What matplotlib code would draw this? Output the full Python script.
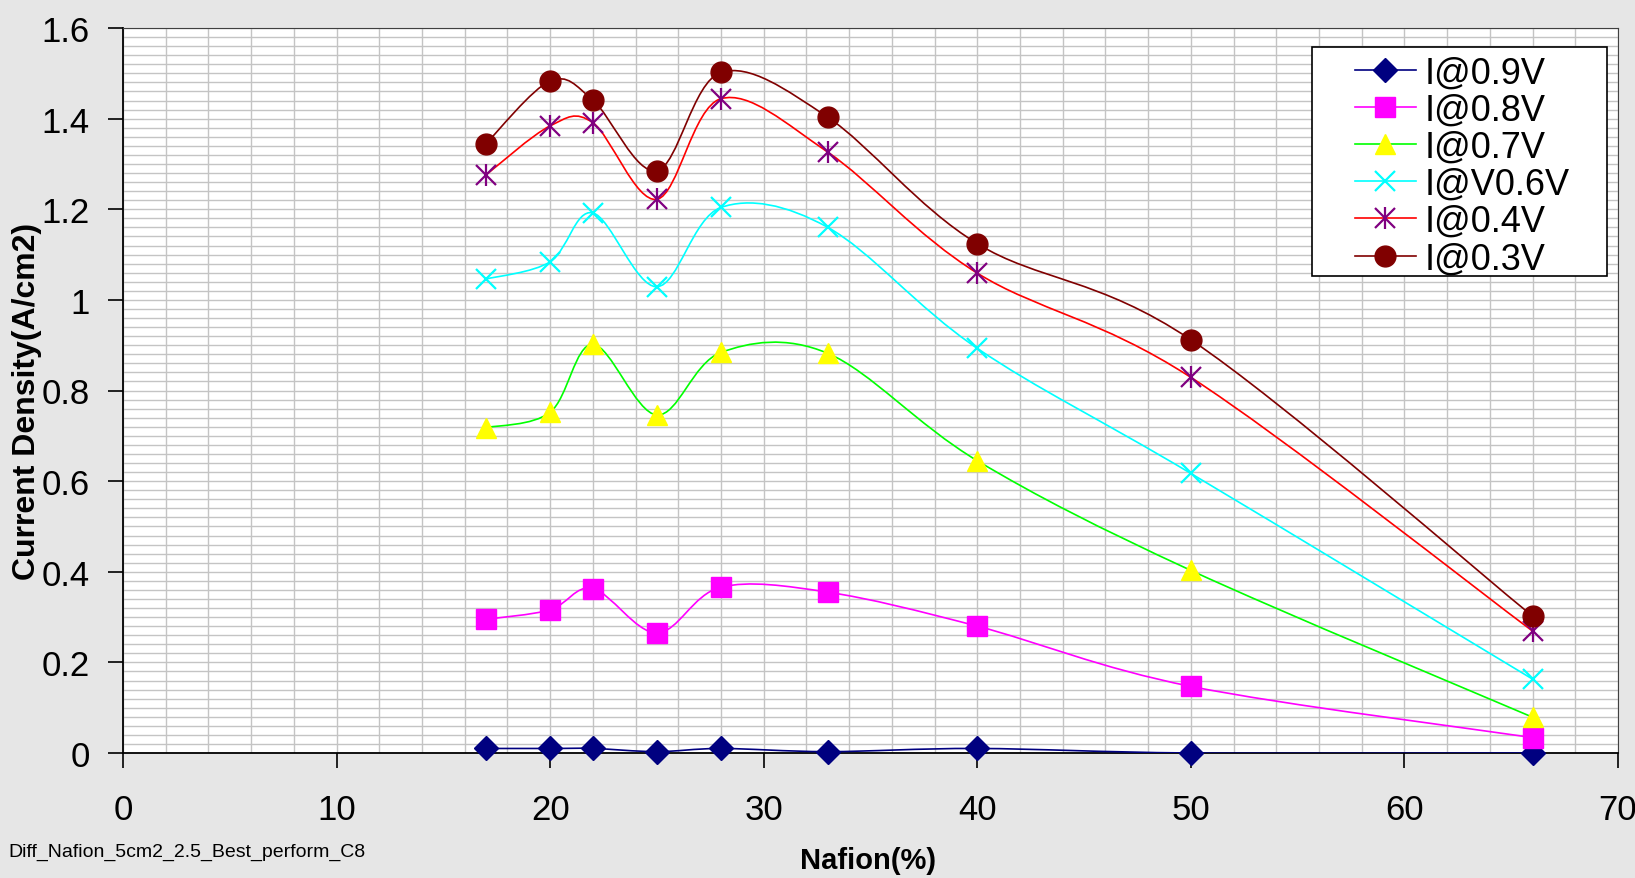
import numpy as np
import matplotlib
matplotlib.use("Agg")
import matplotlib.pyplot as plt
from matplotlib.path import Path
from matplotlib.patches import PathPatch, Rectangle
from matplotlib.lines import Line2D
from matplotlib import font_manager

names = {f.name for f in font_manager.fontManager.ttflist}
narrow = 'Liberation Sans Narrow' if 'Liberation Sans Narrow' in names else 'Liberation Sans'
plt.rcParams['font.family'] = [narrow, 'DejaVu Sans']

# Nafion content (%)
nafion = [17, 20, 22, 25, 28, 33, 40, 50, 66]

# current density (A/cm2) at each cell voltage
i_09 = [0.01, 0.01, 0.01, 0.003, 0.01, 0.003, 0.01, 0.0, 0.0]
i_08 = [0.295, 0.316, 0.363, 0.265, 0.366, 0.355, 0.280, 0.147, 0.034]
i_07 = [0.718, 0.752, 0.902, 0.746, 0.884, 0.882, 0.645, 0.403, 0.079]
i_06 = [1.046, 1.084, 1.192, 1.029, 1.204, 1.160, 0.893, 0.617, 0.163]
i_04 = [1.276, 1.384, 1.391, 1.222, 1.444, 1.326, 1.059, 0.829, 0.269]
i_03 = [1.345, 1.483, 1.441, 1.285, 1.502, 1.403, 1.124, 0.912, 0.302]

labels = ['I@0.9V', 'I@0.8V', 'I@0.7V', 'I@V0.6V', 'I@0.4V', 'I@0.3V']


def smooth_path(x, y):
    # Excel-like smoothed line: cubic Bezier through the points
    x = np.asarray(x, float)
    y = np.asarray(y, float)
    n = len(x)
    verts = [(x[0], y[0])]
    codes = [Path.MOVETO]
    for i in range(n - 1):
        i0 = max(i - 1, 0)
        i3 = min(i + 2, n - 1)
        c1 = (x[i] + (x[i + 1] - x[i0]) / 6, y[i] + (y[i + 1] - y[i0]) / 6)
        c2 = (x[i + 1] - (x[i3] - x[i]) / 6, y[i + 1] - (y[i3] - y[i]) / 6)
        verts += [c1, c2, (x[i + 1], y[i + 1])]
        codes += [Path.CURVE4] * 3
    return Path(verts, codes)


fig = plt.figure(figsize=(16.35, 8.79), dpi=100, facecolor='#e6e6e6')
ax = fig.add_axes([123 / 1635, 1 - 754 / 879, 1495 / 1635, 725 / 879])
ax.set_facecolor('white')
ax.set_xlim(0, 70)
ax.set_ylim(0, 1.6)

ax.set_xticks(np.arange(0, 71, 2), minor=True)
ax.set_yticks(np.arange(0, 1.601, 0.02), minor=True)
ax.grid(True, which='both', color='#c4c4c4', lw=1.0)
ax.set_axisbelow(True)
ax.set_xticks(np.arange(0, 71, 10))
ax.set_yticks(np.arange(0, 1.61, 0.2))
ax.set_yticklabels(['0', '0.2', '0.4', '0.6', '0.8', '1', '1.2', '1.4', '1.6'])
ax.tick_params(which='minor', length=0)
ax.tick_params(which='major', direction='out', length=11, width=1.2, color='black', labelsize=25)
ax.tick_params(axis='x', pad=18)
ax.tick_params(axis='y', pad=13)
for s in ['top', 'right']:
    ax.spines[s].set_color('#404040')
for s in ['left', 'bottom']:
    ax.spines[s].set_color('black')
    ax.spines[s].set_linewidth(1.3)

series = [
    (i_09, '#000080', dict(marker='D', ms=12, mfc='#000080', mec='#000080')),
    (i_08, '#ff00ff', dict(marker='s', ms=14, mfc='#ff00ff', mec='#ff00ff')),
    (i_07, '#00ff00', dict(marker='^', ms=15, mfc='#ffff00', mec='#ffff00')),
    (i_06, '#00ffff', dict(marker='x', ms=14, mew=1.6, color='#00ffff')),
    (i_04, '#ff0000', dict(marker='x', ms=15, mew=1.6, color='#800080')),
    (i_03, '#800000', dict(marker='o', ms=15, mfc='#800000', mec='#800000')),
]

handles = []
for (vals, lc, mk), lab in zip(series, labels):
    ax.add_patch(PathPatch(smooth_path(nafion, vals), fill=False, ec=lc, lw=1.2, zorder=3))
    ax.plot(nafion, vals, ls='none', zorder=4, clip_on=False, **mk)
    h = Line2D([], [], color=lc, lw=1.2, **{k: v for k, v in mk.items() if k != 'color'},
               **({'mec': mk['color']} if 'color' in mk else {}))
    if lab == 'I@0.4V':
        ax.plot(nafion, vals, ls='none', marker='|', ms=16, mew=1.6, color='#800080', zorder=4)
        h2 = Line2D([], [], ls='none', marker='|', ms=16, mew=1.6, color='#800080')
        h = (h, h2)
    handles.append(h)

# legend box
ax.add_patch(Rectangle((0.7953, 0.658), 0.9926 - 0.7953, 0.974 - 0.658, transform=ax.transAxes,
                       facecolor='white', edgecolor='black', lw=1.2, zorder=6))
leg = ax.legend(handles, labels, loc='center',
                bbox_to_anchor=((0.7953 + 0.9926) / 2 + 0.002, (0.658 + 0.974) / 2 - 0.006),
                frameon=False, fontsize=26, handlelength=1.7, handletextpad=0.25,
                labelspacing=0.06, borderpad=0, numpoints=1)
leg.set_zorder(7)

fig.text(27 / 1635, 1 - 401 / 879, 'Current Density(A/cm2)', rotation=90, ha='center', va='center',
         fontsize=23, fontweight='bold', family=['Liberation Sans', 'DejaVu Sans'])
fig.text(868 / 1635, 1 - 861 / 879, 'Nafion(%)', ha='center', va='center',
         fontsize=21, fontweight='bold', family=['Liberation Sans', 'DejaVu Sans'])
fig.text(8 / 1635, 1 - 852 / 879, 'Diff_Nafion_5cm2_2.5_Best_perform_C8', ha='left', va='center',
         fontsize=14)

fig.savefig('out.png', dpi=100, facecolor=fig.get_facecolor())
